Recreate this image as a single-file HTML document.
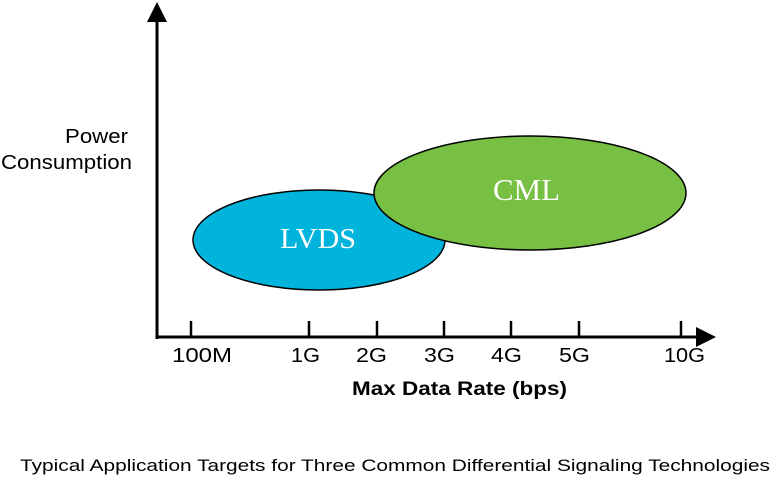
<!DOCTYPE html>
<html><head><style>body{margin:0;background:#fff;width:772px;height:480px;overflow:hidden}</style></head>
<body>
<svg width="772" height="480" xmlns="http://www.w3.org/2000/svg" font-family="Liberation Sans, Arial, sans-serif">
<line x1="157" y1="20" x2="157" y2="339" stroke="#000" stroke-width="3"/>
<polygon points="157,2 147,22 167,22" fill="#000"/>
<line x1="156" y1="337" x2="698" y2="337" stroke="#000" stroke-width="3"/>
<polygon points="716,337 696,327 696,347" fill="#000"/>
<g stroke="#000" stroke-width="2.5">
<line x1="191" y1="321" x2="191" y2="337"/>
<line x1="309" y1="321" x2="309" y2="337"/>
<line x1="377" y1="321" x2="377" y2="337"/>
<line x1="444" y1="321" x2="444" y2="337"/>
<line x1="511" y1="321" x2="511" y2="337"/>
<line x1="579" y1="321" x2="579" y2="337"/>
<line x1="681" y1="321" x2="681" y2="337"/>
</g>
<g font-size="20" fill="#000">
<text x="172" y="362" textLength="60" lengthAdjust="spacingAndGlyphs">100M</text>
<text x="291" y="362" textLength="29" lengthAdjust="spacingAndGlyphs">1G</text>
<text x="356" y="362" textLength="31" lengthAdjust="spacingAndGlyphs">2G</text>
<text x="424" y="362" textLength="31" lengthAdjust="spacingAndGlyphs">3G</text>
<text x="491" y="362" textLength="31" lengthAdjust="spacingAndGlyphs">4G</text>
<text x="559" y="362" textLength="31" lengthAdjust="spacingAndGlyphs">5G</text>
<text x="664" y="362" textLength="41" lengthAdjust="spacingAndGlyphs">10G</text>
</g>
<text x="352" y="395" font-size="19" font-weight="bold" textLength="215" lengthAdjust="spacingAndGlyphs">Max Data Rate (bps)</text>
<text x="65" y="143" font-size="20" textLength="63" lengthAdjust="spacingAndGlyphs">Power</text>
<text x="1" y="169" font-size="20" textLength="131" lengthAdjust="spacingAndGlyphs">Consumption</text>
<ellipse cx="319" cy="240" rx="126" ry="50" fill="#00b4dc" stroke="#000" stroke-width="1.5"/>
<ellipse cx="530" cy="193" rx="156" ry="57" fill="#77c043" stroke="#000" stroke-width="1.5"/>
<text x="280" y="248" font-family="Liberation Serif, serif" font-size="28" fill="#fff" textLength="76" lengthAdjust="spacingAndGlyphs">LVDS</text>
<text x="493" y="200" font-family="Liberation Serif, serif" font-size="31" fill="#fff" textLength="67" lengthAdjust="spacingAndGlyphs">CML</text>
<text x="20" y="471" font-size="17" textLength="750" lengthAdjust="spacingAndGlyphs">Typical Application Targets for Three Common Differential Signaling Technologies</text>
</svg>
</body></html>
